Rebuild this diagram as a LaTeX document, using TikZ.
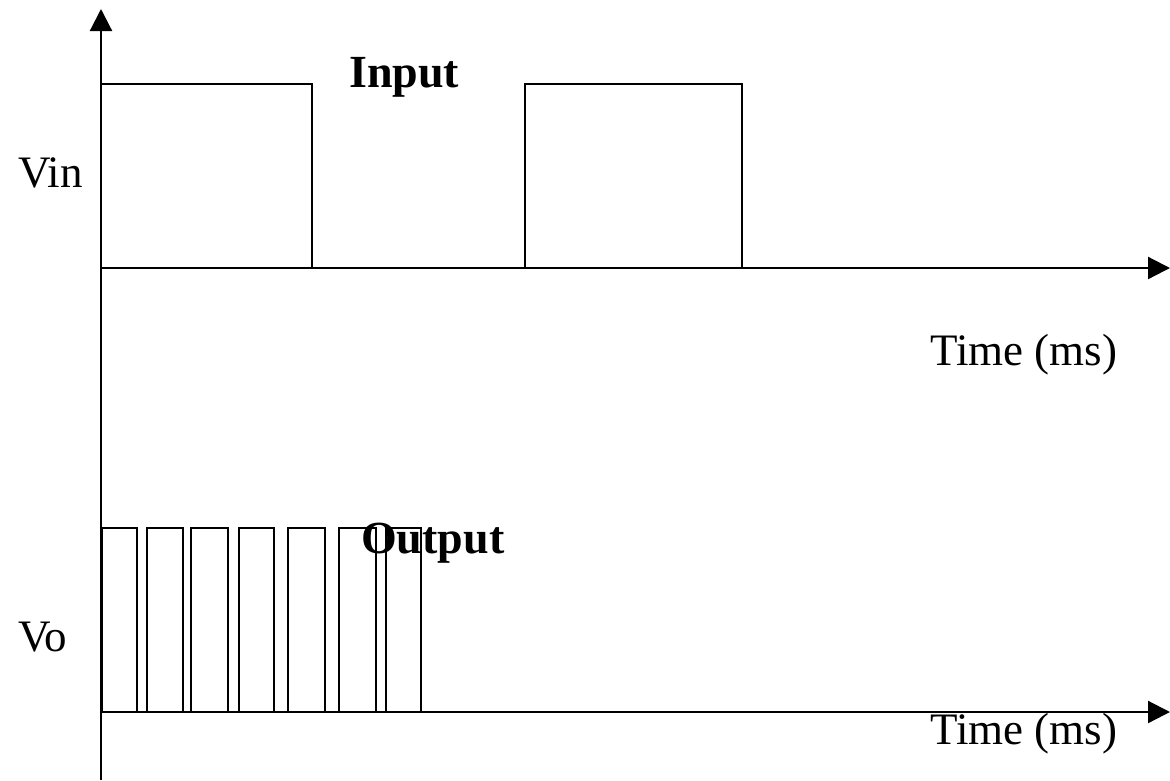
\documentclass[tikz,border=0pt]{standalone}
\usepackage{fontspec}
\setmainfont{Liberation Serif}
\usetikzlibrary{arrows.meta}
\begin{document}
\begin{tikzpicture}[x=1pt,y=-1pt,
  axis/.style={line width=2.2pt,-{Triangle[length=22pt,width=22pt]}},
  wave/.style={line width=2.2pt},
  lbl/.style={inner sep=0pt,font=\fontsize{45}{50}\selectfont},
  blbl/.style={inner sep=0pt,font=\fontsize{46}{50}\selectfont\bfseries}]
\useasboundingbox (0,0) rectangle (1170,780);
\coordinate (o1) at (101,268);
\coordinate (o2) at (101,712);
\coordinate (ybot) at (101,780);
\coordinate (ytop) at (101,9);
\coordinate (x1end) at (1170,268);
\coordinate (x2end) at (1170,712);
\draw[axis] (ybot) -- (ytop);
\draw[axis] (o1) -- (x1end);
\draw[axis] (o2) -- (x2end);
% input
\draw[wave] (101,84) -- (312,84) -- (312,268);
\draw[wave] (525,268) -- (525,84) -- (742,84) -- (742,268);
% output pulses
\foreach \a/\b in {102/137,147/183,191/228,239/274,288/325,339/376,386/421}{
  \draw[wave] (\a,712) -- (\a,528) -- (\b,528) -- (\b,712);
}
\node[lbl,anchor=west] (vin) at (18,173) {Vin};
\node[blbl,anchor=west] (inp) at (349,77) {Input};
\node[lbl,anchor=west] (t1) at (930,355) {Time (ms)};
\node[blbl,anchor=west] (outp) at (361,543) {Output};
\node[lbl,anchor=west] (vo) at (18,637) {Vo};
\node[lbl,anchor=west] (t2) at (930,734) {Time (ms)};
\end{tikzpicture}
\end{document}
